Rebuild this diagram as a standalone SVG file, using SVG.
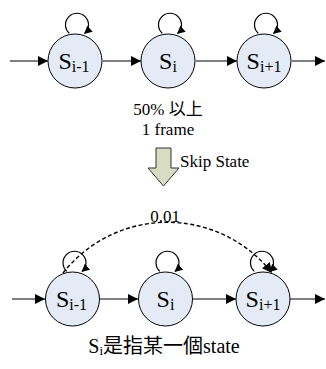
<svg xmlns="http://www.w3.org/2000/svg" width="326" height="369" viewBox="0 0 326 369">
<style>
.st{fill:#e4ebf6;stroke:#000;stroke-width:1}
.ln{fill:none;stroke:#000;stroke-width:1.2}
.dash{fill:none;stroke:#000;stroke-width:1.4;stroke-dasharray:4,2.5}
.f{font-family:"Liberation Serif","DejaVu Serif",serif}
.fc{font-family:"Liberation Serif","Noto Sans CJK TC","DejaVu Serif",serif}
</style>
<defs>
<marker id="ah" markerUnits="userSpaceOnUse" markerWidth="10" markerHeight="10" viewBox="0 0 10 10" refX="10" refY="5" orient="auto">
<path d="M0,0 L10,5 L0,10 Z" fill="#000"/>
</marker>
<marker id="ahs" markerUnits="userSpaceOnUse" markerWidth="8" markerHeight="8" viewBox="0 0 10 10" refX="9" refY="5" orient="auto">
<path d="M0,0 L10,5 L0,10 Z" fill="#000"/>
</marker>
</defs>
<g id="connectors">
<path class="ln" d="M10 61 L48 61" marker-end="url(#ah)"/>
<path class="ln" d="M103 61 L141 61" marker-end="url(#ah)"/>
<path class="ln" d="M196 61 L237 61" marker-end="url(#ah)"/>
<path class="ln" d="M292 61 L325 61" marker-end="url(#ah)"/>
<path class="ln" d="M69.4 33.4 A11.5 11.5 0 1 1 84.6 33.4" marker-end="url(#ahs)"/>
<path class="ln" d="M162.4 33.4 A11.5 11.5 0 1 1 177.6 33.4" marker-end="url(#ahs)"/>
<path class="ln" d="M258.4 33.4 A11.5 11.5 0 1 1 273.6 33.4" marker-end="url(#ahs)"/>
<path class="ln" d="M12 299 L45 299" marker-end="url(#ah)"/>
<path class="ln" d="M100 299 L138 299" marker-end="url(#ah)"/>
<path class="ln" d="M193 299 L236 299" marker-end="url(#ah)"/>
<path class="ln" d="M290 299 L325 299" marker-end="url(#ah)"/>
<path class="ln" d="M66.9 271.4 A11.5 11.5 0 1 1 82.1 271.4" marker-end="url(#ahs)"/>
<path class="ln" d="M159.9 271.4 A11.5 11.5 0 1 1 175.1 271.4" marker-end="url(#ahs)"/>
<path class="ln" d="M254.4 271.4 A11.5 11.5 0 1 1 269.6 271.4" marker-end="url(#ahs)"/>
<path class="dash" d="M63 273 A133 133 0 0 1 272 273" marker-end="url(#ah)"/>
</g>
<g id="s_im1_top"><circle class="st" cx="75" cy="61" r="27"/><text class="f" x="74" y="69" text-anchor="middle" font-size="24">S<tspan font-size="16" dy="3">i-1</tspan></text></g>
<g id="s_i_top"><circle class="st" cx="168" cy="61" r="27"/><text class="f" x="168" y="69" text-anchor="middle" font-size="24">S<tspan font-size="16" dy="3">i</tspan></text></g>
<g id="s_ip1_top"><circle class="st" cx="264" cy="61" r="27"/><text class="f" x="264" y="69" text-anchor="middle" font-size="24">S<tspan font-size="16" dy="3">i+1</tspan></text></g>
<g id="note">
<text class="fc" x="168" y="115" text-anchor="middle" font-size="17">50% 以上</text>
<text class="f" x="168" y="135" text-anchor="middle" font-size="17">1 frame</text>
</g>
<g id="skip">
<path d="M156 148 L171 148 L171 168 L179 168 L163.5 186 L148 168 L156 168 Z" fill="#d7dcc3" stroke="#333" stroke-width="1"/>
<text class="f" x="180" y="167" font-size="17">Skip State</text>
</g>
<text class="f" x="165" y="222" text-anchor="middle" font-size="17">0.01</text>
<g id="s_im1_bot"><circle class="st" cx="72.5" cy="299" r="27"/><text class="f" x="71.5" y="307" text-anchor="middle" font-size="24">S<tspan font-size="16" dy="3">i-1</tspan></text></g>
<g id="s_i_bot"><circle class="st" cx="165.5" cy="299" r="27"/><text class="f" x="165.5" y="307" text-anchor="middle" font-size="24">S<tspan font-size="16" dy="3">i</tspan></text></g>
<g id="s_ip1_bot"><circle class="st" cx="263" cy="299" r="27"/><text class="f" x="263" y="307" text-anchor="middle" font-size="24">S<tspan font-size="16" dy="3">i+1</tspan></text></g>
<text class="fc" x="164" y="353" text-anchor="middle" font-size="20">S<tspan font-size="13" dy="2">i</tspan><tspan dy="-2">是指某一個state</tspan></text>
</svg>
